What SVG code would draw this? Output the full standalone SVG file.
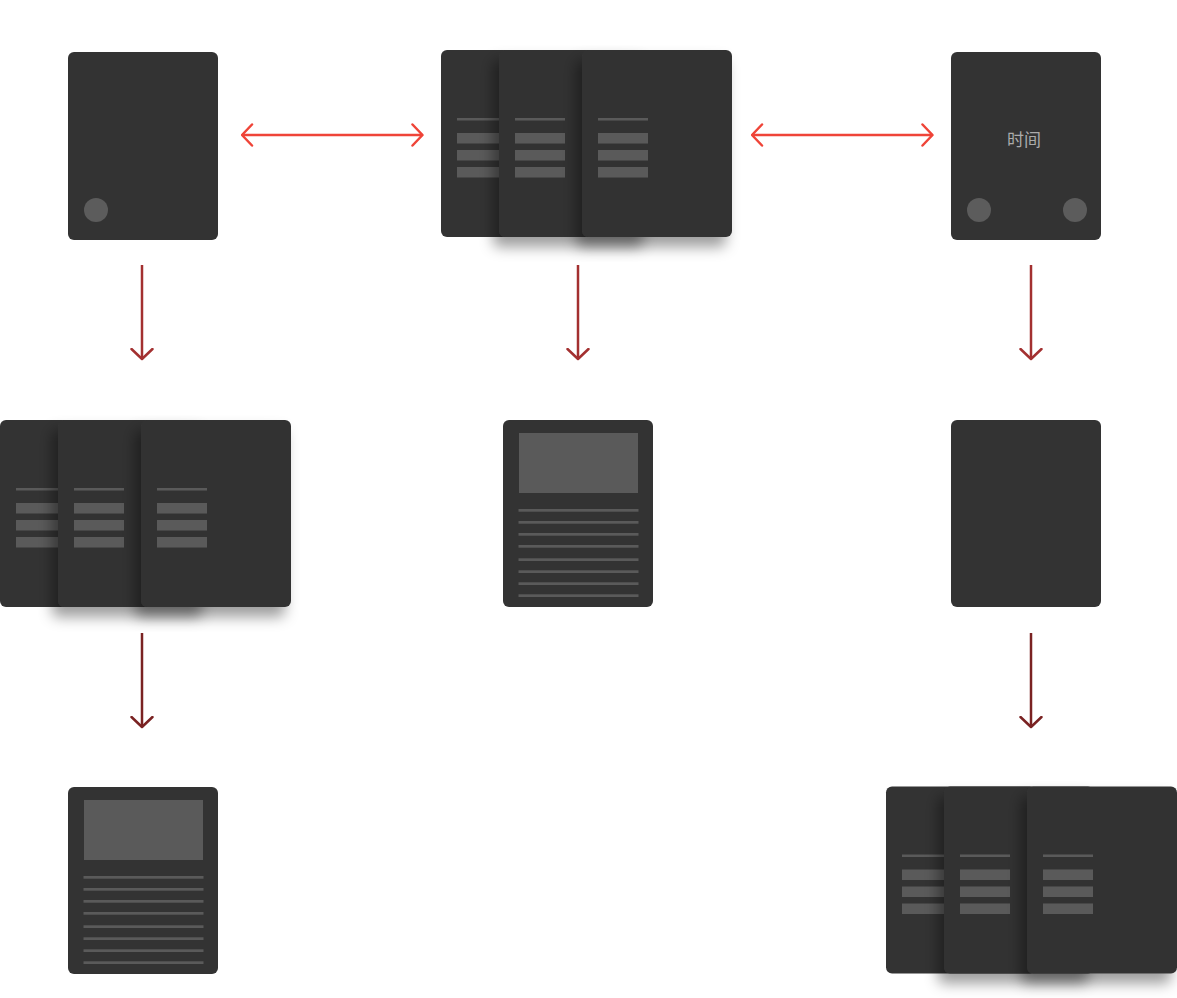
<svg xmlns="http://www.w3.org/2000/svg" width="1177" height="998" viewBox="0 0 1177 998">
<style>
.card{fill:#333333}
.ln{fill:#5a5a5a}
.dot{fill:#5c5c5c}
.red{stroke:#ef4438;stroke-width:2.5;fill:none}
.dr1{stroke:#a33030;stroke-width:2.5;fill:none}
.dr2{stroke:#7a2222;stroke-width:2.5;fill:none}
.lbl{font-family:"Noto Sans CJK SC","Noto Sans",sans-serif;font-size:17px;fill:#ababab}
</style>
<defs>
<filter id="sh" x="-30%" y="-20%" width="160%" height="150%">
<feDropShadow dx="-6" dy="10" stdDeviation="7" flood-color="#000" flood-opacity="0.38"/>
</filter>
<marker id="mR" viewBox="0 0 13 24" refX="11.5" refY="12" markerWidth="13" markerHeight="24" markerUnits="userSpaceOnUse" orient="auto-start-reverse">
<path d="M1.5,1.5 L11.5,12 L1.5,22.5" fill="none" stroke="#ef4438" stroke-width="2.5" stroke-linecap="round" stroke-linejoin="round"/>
</marker>
<marker id="mD1" viewBox="0 0 13 24" refX="11.5" refY="12" markerWidth="13" markerHeight="24" markerUnits="userSpaceOnUse" orient="auto">
<path d="M1.5,1.5 L11.5,12 L1.5,22.5" fill="none" stroke="#a33030" stroke-width="2.5" stroke-linecap="round" stroke-linejoin="round"/>
</marker>
<marker id="mD2" viewBox="0 0 13 24" refX="11.5" refY="12" markerWidth="13" markerHeight="24" markerUnits="userSpaceOnUse" orient="auto">
<path d="M1.5,1.5 L11.5,12 L1.5,22.5" fill="none" stroke="#7a2222" stroke-width="2.5" stroke-linecap="round" stroke-linejoin="round"/>
</marker>
<g id="listcard">
<rect class="card" x="0" y="0" width="150" height="187" rx="6"/>
<rect class="ln" x="16" y="68" width="50" height="2.5"/>
<rect class="ln" x="16" y="83" width="50" height="10.5"/>
<rect class="ln" x="16" y="100" width="50" height="10.5"/>
<rect class="ln" x="16" y="117" width="50" height="10.5"/>
</g>
<g id="doccard">
<rect class="card" x="0" y="0" width="150" height="187" rx="6"/>
<rect class="ln" x="16" y="13" width="119" height="60"/>
<rect class="ln" x="15.5" y="89" width="120" height="2.7"/>
<rect class="ln" x="15.5" y="101" width="120" height="2.7"/>
<rect class="ln" x="15.5" y="113" width="120" height="2.7"/>
<rect class="ln" x="15.5" y="125" width="120" height="2.7"/>
<rect class="ln" x="15.5" y="138.3" width="120" height="2.7"/>
<rect class="ln" x="15.5" y="150.3" width="120" height="2.7"/>
<rect class="ln" x="15.5" y="162.3" width="120" height="2.7"/>
<rect class="ln" x="15.5" y="174.3" width="120" height="2.7"/>
</g>
</defs>
<rect width="1177" height="998" fill="#ffffff"/>

<g id="connectors">
<line class="red" x1="242" y1="135" x2="422.5" y2="135" marker-start="url(#mR)" marker-end="url(#mR)"/>
<line class="red" x1="752" y1="135" x2="932.5" y2="135" marker-start="url(#mR)" marker-end="url(#mR)"/>
<line class="dr1" x1="142" y1="265" x2="142" y2="359" marker-end="url(#mD1)"/>
<line class="dr1" x1="578" y1="265" x2="578" y2="359" marker-end="url(#mD1)"/>
<line class="dr1" x1="1031" y1="265" x2="1031" y2="359" marker-end="url(#mD1)"/>
<line class="dr2" x1="142" y1="633" x2="142" y2="727" marker-end="url(#mD2)"/>
<line class="dr2" x1="1031" y1="633" x2="1031" y2="727" marker-end="url(#mD2)"/>
</g>

<g id="node-home">
<rect class="card" x="68" y="52" width="150" height="188" rx="6"/>
<circle class="dot" cx="96" cy="210" r="12"/>
</g>

<g id="node-list-top">
<use href="#listcard" x="441" y="50"/>
<use href="#listcard" x="499" y="50" filter="url(#sh)"/>
<use href="#listcard" x="582" y="50" filter="url(#sh)"/>
</g>

<g id="node-time">
<rect class="card" x="951" y="52" width="150" height="188" rx="6"/>
<text class="lbl" x="1024" y="146" text-anchor="middle">时间</text>
<circle class="dot" cx="979" cy="210" r="12"/>
<circle class="dot" cx="1075" cy="210" r="12"/>
</g>

<g id="node-list-mid">
<use href="#listcard" x="0" y="420"/>
<use href="#listcard" x="58" y="420" filter="url(#sh)"/>
<use href="#listcard" x="141" y="420" filter="url(#sh)"/>
</g>

<g id="node-doc-mid">
<use href="#doccard" x="503" y="420"/>
</g>

<g id="node-blank">
<rect class="card" x="951" y="420" width="150" height="187" rx="6"/>
</g>

<g id="node-doc-bottom">
<use href="#doccard" x="68" y="787"/>
</g>

<g id="node-list-bottom">
<use href="#listcard" x="886" y="786.5"/>
<use href="#listcard" x="944" y="786.5" filter="url(#sh)"/>
<use href="#listcard" x="1027" y="786.5" filter="url(#sh)"/>
</g>
</svg>
